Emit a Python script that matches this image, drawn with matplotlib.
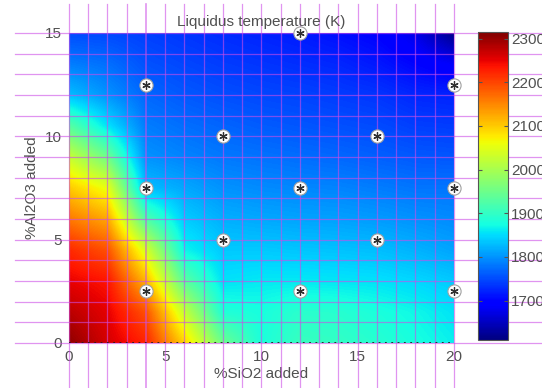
import matplotlib.pyplot as plt
import numpy as np

plt.rcParams['font.family'] = ['Liberation Sans', 'DejaVu Sans']

# sampling grid of the liquidus map (% added)
sio2 = [0, 2, 4, 6, 8, 10, 12, 14, 16, 18, 20]
al2o3 = [0, 1.5, 3, 4.5, 6, 7.5, 9, 10.5, 12, 13.5, 15]

# liquidus temperature (K): one row per al2o3 value, columns follow sio2
t_liq = [
    [2305, 2262, 2225, 2095, 1950, 1880, 1905, 1900, 1890, 1878, 1865],
    [2278, 2252, 2190, 2025, 1885, 1878, 1893, 1890, 1880, 1870, 1856],
    [2250, 2235, 2115, 1935, 1855, 1860, 1860, 1858, 1855, 1848, 1838],
    [2220, 2190, 2040, 1868, 1838, 1838, 1835, 1833, 1830, 1822, 1812],
    [2160, 2125, 1925, 1840, 1820, 1815, 1812, 1810, 1806, 1800, 1795],
    [2100, 2055, 1830, 1815, 1800, 1795, 1792, 1790, 1785, 1780, 1780],
    [2025, 1950, 1800, 1790, 1782, 1778, 1774, 1770, 1765, 1760, 1758],
    [1930, 1855, 1785, 1775, 1768, 1762, 1758, 1754, 1750, 1742, 1740],
    [1830, 1800, 1770, 1760, 1753, 1748, 1745, 1740, 1735, 1725, 1722],
    [1785, 1775, 1755, 1747, 1740, 1735, 1730, 1725, 1715, 1700, 1685],
    [1750, 1748, 1742, 1735, 1728, 1722, 1716, 1708, 1698, 1675, 1615],
]

# compositions that were actually computed
pts_sio2 = [4, 4, 4, 8, 8, 12, 12, 12, 16, 16, 20, 20, 20]
pts_al2o3 = [2.5, 7.5, 12.5, 5, 10, 2.5, 7.5, 15, 5, 10, 2.5, 7.5, 12.5]

cbar_ticks = [1700, 1800, 1900, 2000, 2100, 2200, 2300]
t_min, t_max = 1610, 2315

txt = '#505050'
grid_col = (0.8, 0.3, 0.9)

fig = plt.figure(figsize=(5.42, 3.88), dpi=100)
ax = fig.add_axes([0.1273, 0.116, 0.7103, 0.799])
cax = fig.add_axes([0.882, 0.1237, 0.0554, 0.7938])

dx = sio2[1] - sio2[0]
dy = al2o3[1] - al2o3[0]
im = ax.imshow(np.array(t_liq), origin='lower', cmap='jet', vmin=t_min, vmax=t_max,
               extent=[sio2[0] - dx / 2, sio2[-1] + dx / 2, al2o3[0] - dy / 2, al2o3[-1] + dy / 2],
               interpolation='bilinear', interpolation_stage='data', aspect='auto', zorder=0)
ax.set_xlim(sio2[0], sio2[-1])
ax.set_ylim(al2o3[0], al2o3[-1])

# graph-paper lines running over the whole figure
for gx in range(0, 21):
    ax.axvline(gx, ymin=-0.145, ymax=1.094, color=grid_col, alpha=0.6,
               lw=1.2 if gx == 4 else 0.9, clip_on=False, zorder=2)
for gy in range(0, 16):
    ax.axhline(gy, xmin=-0.14, xmax=1.23, color=grid_col, alpha=0.6, lw=0.9,
               clip_on=False, zorder=2)

ax.axhline(0, color='#222222', lw=1.3, ls=(0, (1, 2.5)), zorder=3)

ax.plot(pts_sio2, pts_al2o3, 'o', ms=9.5, mfc='white', mec='#a0a0a0', mew=0.8,
        clip_on=False, zorder=4)
ax.plot(pts_sio2, pts_al2o3, marker=(6, 2, 0), ls='none', ms=6, mec='#303030', mew=0.9,
        clip_on=False, zorder=5)

for s in ax.spines.values():
    s.set_visible(False)
ax.set_xticks([0, 5, 10, 15, 20])
ax.set_yticks([0, 5, 10, 15])
ax.tick_params(length=0, labelsize=11, labelcolor=txt, pad=5)
ax.set_xlabel('%SiO2 added', fontsize=11, color=txt, labelpad=2)
ax.set_ylabel('%Al2O3 added', fontsize=11, color=txt, labelpad=4)
ax.set_title('Liquidus temperature (K)', fontsize=11, color=txt, pad=5)

cb = fig.colorbar(im, cax=cax, ticks=cbar_ticks)
cb.outline.set_edgecolor('#555555')
cb.outline.set_linewidth(0.8)
cax.tick_params(direction='in', length=3, labelsize=11, labelcolor=txt, pad=2,
                left=True, right=True, color='#555555')

fig.savefig('out.png', dpi=100)
